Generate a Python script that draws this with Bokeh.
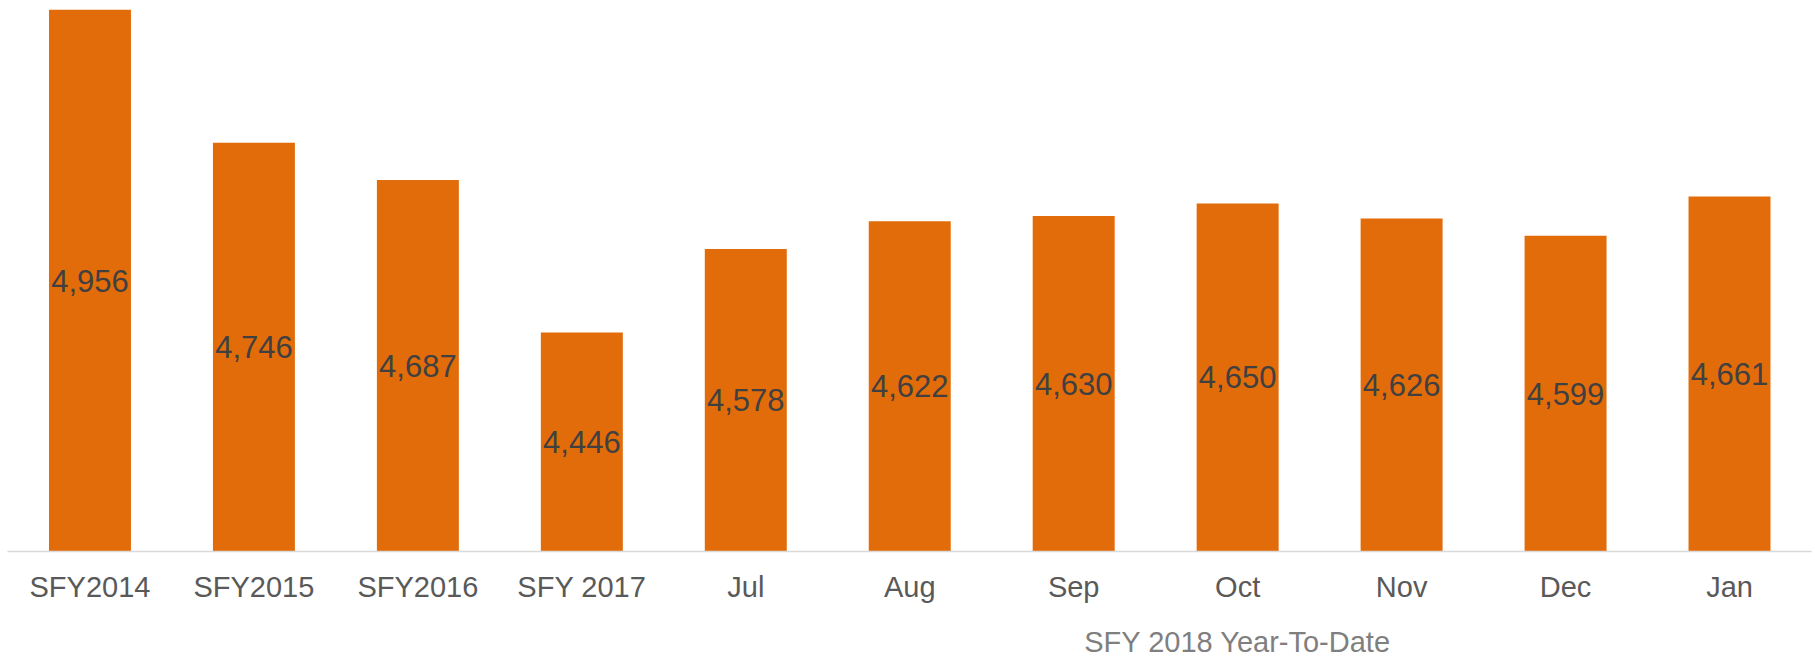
from bokeh.plotting import figure
from bokeh.models import Range1d, ColumnDataSource, FixedTicker, LinearAxis
from bokeh.core.properties import value
from bokeh.embed import file_html
from bokeh.resources import INLINE

categories = ["SFY2014", "SFY2015", "SFY2016", "SFY 2017", "Jul", "Aug", "Sep", "Oct", "Nov", "Dec", "Jan"]
counts = [4956, 4746, 4687, 4446, 4578, 4622, 4630, 4650, 4626, 4599, 4661]
group_label = "SFY 2018 Year-To-Date"
group_center = 7  # middle of Jul..Jan

base = 4100
xs = list(range(len(categories)))
src = ColumnDataSource(dict(
    x=xs,
    top=counts,
    mid=[(c + base) / 2 for c in counts],
    txt=[f"{c:,}" for c in counts],
))

FONT = "Liberation Sans"

p = figure(frame_width=1804, frame_height=543, output_backend="svg", toolbar_location=None,
           x_range=Range1d(-0.503, 10.5), y_range=Range1d(base, 4958),
           y_axis_location=None, min_border_left=7, min_border_right=4,
           min_border_top=8, min_border_bottom=0)
p.outline_line_color = None
p.xgrid.visible = False
p.ygrid.visible = False
p.background_fill_color = "white"
p.border_fill_color = "white"

p.vbar(x="x", top="top", bottom=base, width=0.5, source=src,
       fill_color="#E36C0A", line_color=None)

p.text(x="x", y="mid", text="txt", source=src, text_align="center",
       text_baseline="middle", text_font=value(FONT), text_font_size="31px",
       text_color="#404040")

ax = p.xaxis[0]
ax.ticker = FixedTicker(ticks=xs)
ax.major_label_overrides = {i: c for i, c in enumerate(categories)}
ax.major_tick_line_color = None
ax.minor_tick_line_color = None
ax.major_tick_out = 0
ax.major_tick_in = 0
ax.axis_line_color = "#d9d9d9"
ax.axis_line_width = 1.5
ax.major_label_text_font = FONT
ax.major_label_text_font_size = "29px"
ax.major_label_text_color = "#595959"
ax.major_label_standoff = 19

ax2 = LinearAxis(ticker=FixedTicker(ticks=[group_center]),
                 major_label_overrides={group_center: group_label})
ax2.axis_line_color = None
ax2.major_tick_line_color = None
ax2.minor_tick_line_color = None
ax2.major_tick_out = 0
ax2.major_tick_in = 0
ax2.major_label_text_font = FONT
ax2.major_label_text_font_size = "29px"
ax2.major_label_text_color = "#7f7f7f"
ax2.major_label_standoff = 20
p.add_layout(ax2, "below")

open("out.html", "w").write(file_html(p, INLINE))
